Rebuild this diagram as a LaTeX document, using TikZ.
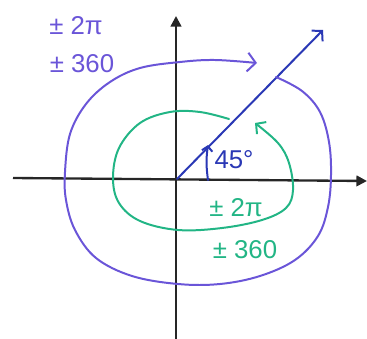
\documentclass[tikz,border=0pt]{standalone}
\usepackage{fontspec}
\setmainfont{Liberation Sans}
\usetikzlibrary{arrows.meta}
\definecolor{loopviolet}{HTML}{6A55D8}
\definecolor{raymblue}{HTML}{2A38B5}
\definecolor{loopgreen}{HTML}{22B585}
\begin{document}
\begin{tikzpicture}[
  x=0.03cm, y=-0.03cm,
  axis/.style={draw=black!85, line width=2pt, -{Triangle[length=9pt,width=9pt]}},
  pen/.style={line width=1.7pt, line cap=round, line join=round, -{Straight Barb[length=6pt,width=13pt]}},
  hand/.style={font=\fontsize{22}{24}\selectfont, inner sep=0pt}
]
\useasboundingbox (0,0) rectangle (367,339);

\coordinate (O) at (177,179);
\coordinate (xl) at (13,178);
\coordinate (xr) at (367,181);
\coordinate (yb) at (176,339);
\coordinate (yt) at (176,16);
\coordinate (tip) at (323,30);

\draw[axis] (xl) -- (xr);
\draw[axis] (yb) -- (yt);

\draw[pen, draw=raymblue] (O) -- (tip);
\draw[pen, draw=raymblue, -{Straight Barb[length=4pt,width=9pt]}] (208,180) to[bend left=8] (208,145);
\node[hand, text=raymblue] (deg) at (234,160) {45°};

\draw[pen, draw=loopgreen] plot[smooth, tension=0.6] coordinates {
  (229,119) (200,112) (170,112) (140,123) (119,148) (113,178) (119,203)
  (140,221) (178,230) (222,228) (262,220) (286,208) (293,190) (289,163)
  (278,143) (255,123)};
\node[hand, text=loopgreen] (grad) at (236,208) {± 2π};
\node[hand, text=loopgreen] (gdeg) at (245,250) {± 360};

\draw[pen, draw=loopviolet, -{Straight Barb[length=7pt,width=16pt]}] plot[smooth, tension=0.6] coordinates {
  (276,77) (302,91) (320,112) (329,142) (331,175) (328,207) (318,236)
  (295,260) (260,276) (220,284) (178,284) (132,276) (96,258) (75,230)
  (66,200) (65,172) (70,134) (86,104) (110,82) (140,68) (180,62)
  (215,60) (257,63)};
\node[hand, text=loopviolet] (vrad) at (76,26) {± 2π};
\node[hand, text=loopviolet] (vdeg) at (82,64) {± 360};
\end{tikzpicture}
\end{document}
